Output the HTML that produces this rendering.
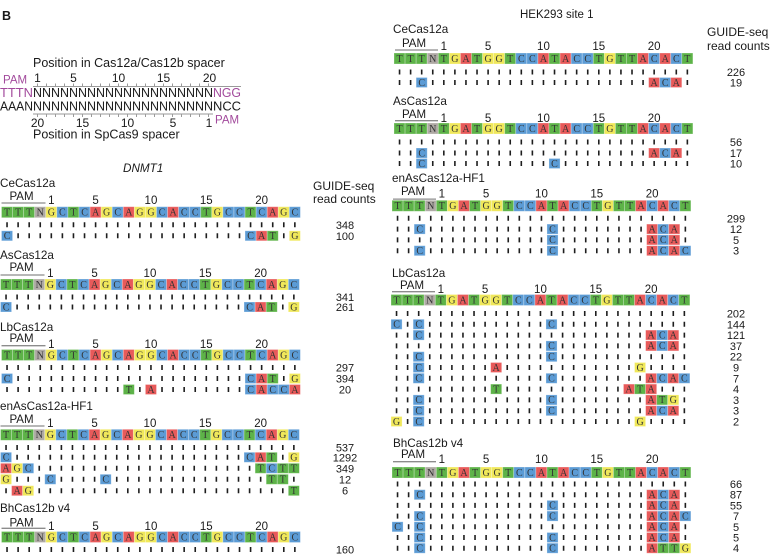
<!DOCTYPE html>
<html><head><meta charset="utf-8">
<style>
html,body{margin:0;padding:0;background:#fff}
body{width:770px;height:557px;overflow:hidden}
svg{display:block}
svg text{font-family:"Liberation Sans",Arial,sans-serif;fill:#1a1a1a}
svg text.s{font-family:"Liberation Serif","Liberation Mono",serif;font-size:10px;fill:#333;text-anchor:middle}
.t{fill:#5db348}.c{fill:#5b9bd5}.g{fill:#f0e85a}.a{fill:#e85a5a}.n{fill:#aea9a4}
rect.t,rect.c,rect.g,rect.a,rect.n{stroke:#fff;stroke-opacity:.35;stroke-width:.8}
.tk{stroke:#1e1e1e;stroke-width:5;stroke-dasharray:1.6 9.47}
svg text.lb{font-size:11.7px}
svg text.num{font-size:11.5px;text-anchor:middle}
svg text.cnt{font-size:11px;text-anchor:middle}
svg text.pm{font-size:11.5px;text-anchor:middle}
.pl{stroke:#8c8c8c;stroke-width:1.3}
svg text.p{fill:#a24a9c}
</style></head><body>
<svg width="770" height="557" viewBox="0 0 770 557" xmlns="http://www.w3.org/2000/svg">
<defs>
<line id="tk" class="tk" x1="4.74" x2="294.16" y1="0" y2="0"/>
<g id="dnmt">
<rect class="t" x="0" width="11.07" height="11"/><rect class="t" x="11.07" width="11.07" height="11"/><rect class="t" x="22.14" width="11.07" height="11"/><rect class="n" x="33.21" width="11.07" height="11"/><rect class="g" x="44.28" width="11.07" height="11"/><rect class="c" x="55.35" width="11.07" height="11"/><rect class="t" x="66.42" width="11.07" height="11"/><rect class="c" x="77.49" width="11.07" height="11"/><rect class="a" x="88.56" width="11.07" height="11"/><rect class="g" x="99.63" width="11.07" height="11"/><rect class="c" x="110.7" width="11.07" height="11"/><rect class="a" x="121.77" width="11.07" height="11"/><rect class="g" x="132.84" width="11.07" height="11"/><rect class="g" x="143.91" width="11.07" height="11"/><rect class="c" x="154.98" width="11.07" height="11"/><rect class="a" x="166.05" width="11.07" height="11"/><rect class="c" x="177.12" width="11.07" height="11"/><rect class="c" x="188.19" width="11.07" height="11"/><rect class="t" x="199.26" width="11.07" height="11"/><rect class="g" x="210.33" width="11.07" height="11"/><rect class="c" x="221.4" width="11.07" height="11"/><rect class="c" x="232.47" width="11.07" height="11"/><rect class="t" x="243.54" width="11.07" height="11"/><rect class="c" x="254.61" width="11.07" height="11"/><rect class="a" x="265.68" width="11.07" height="11"/><rect class="g" x="276.75" width="11.07" height="11"/><rect class="c" x="287.82" width="11.07" height="11"/>
</g>
<g id="hek">
<rect class="t" x="0" width="11.07" height="11"/><rect class="t" x="11.07" width="11.07" height="11"/><rect class="t" x="22.14" width="11.07" height="11"/><rect class="n" x="33.21" width="11.07" height="11"/><rect class="t" x="44.28" width="11.07" height="11"/><rect class="g" x="55.35" width="11.07" height="11"/><rect class="a" x="66.42" width="11.07" height="11"/><rect class="t" x="77.49" width="11.07" height="11"/><rect class="g" x="88.56" width="11.07" height="11"/><rect class="g" x="99.63" width="11.07" height="11"/><rect class="t" x="110.7" width="11.07" height="11"/><rect class="c" x="121.77" width="11.07" height="11"/><rect class="c" x="132.84" width="11.07" height="11"/><rect class="a" x="143.91" width="11.07" height="11"/><rect class="t" x="154.98" width="11.07" height="11"/><rect class="a" x="166.05" width="11.07" height="11"/><rect class="c" x="177.12" width="11.07" height="11"/><rect class="c" x="188.19" width="11.07" height="11"/><rect class="t" x="199.26" width="11.07" height="11"/><rect class="g" x="210.33" width="11.07" height="11"/><rect class="t" x="221.4" width="11.07" height="11"/><rect class="t" x="232.47" width="11.07" height="11"/><rect class="a" x="243.54" width="11.07" height="11"/><rect class="c" x="254.61" width="11.07" height="11"/><rect class="a" x="265.68" width="11.07" height="11"/><rect class="c" x="276.75" width="11.07" height="11"/><rect class="t" x="287.82" width="11.07" height="11"/>
</g>
</defs>

<!-- ===== Top schematic ===== -->
<text x="2" y="20" font-weight="bold" font-size="12.5">B</text>
<text x="33" y="67" font-size="12.5">Position in Cas12a/Cas12b spacer</text>
<text x="3" y="83.5" class="p" font-size="11.5">PAM</text>
<text font-size="12" text-anchor="middle" y="82"><tspan x="37.5">1</tspan><tspan x="73.5">5</tspan><tspan x="118.5">10</tspan><tspan x="163.5">15</tspan><tspan x="209.5">20</tspan></text>
<line x1="33" x2="241" y1="86.5" y2="86.5" stroke="#9a9a9a" stroke-width="1"/>
<line x1="37" x2="209" y1="85" y2="85" stroke="#9a9a9a" stroke-width="3" stroke-dasharray="1 8"/>
<text x="0" y="97" font-size="13" class="p" textLength="33" lengthAdjust="spacingAndGlyphs">TTTN</text>
<text x="33" y="97" font-size="13" textLength="180" lengthAdjust="spacingAndGlyphs">NNNNNNNNNNNNNNNNNNNN</text>
<text x="213" y="97" font-size="13" class="p" textLength="28" lengthAdjust="spacingAndGlyphs">NGG</text>
<text x="0" y="110.3" font-size="13" textLength="33" lengthAdjust="spacingAndGlyphs">AAAN</text>
<text x="33" y="110.3" font-size="13" textLength="180" lengthAdjust="spacingAndGlyphs">NNNNNNNNNNNNNNNNNNNN</text>
<text x="213" y="110.3" font-size="13" textLength="28" lengthAdjust="spacingAndGlyphs">NCC</text>
<line x1="33" x2="213" y1="114" y2="114" stroke="#9a9a9a" stroke-width="1"/>
<line x1="37" x2="209" y1="115.5" y2="115.5" stroke="#9a9a9a" stroke-width="3" stroke-dasharray="1 8"/>
<text font-size="12" text-anchor="middle" y="127"><tspan x="37.5">20</tspan><tspan x="82.5">15</tspan><tspan x="127.5">10</tspan><tspan x="173">5</tspan><tspan x="209">1</tspan></text>
<text x="215" y="123.5" class="p" font-size="11.5">PAM</text>
<text x="33" y="138.5" font-size="12.5">Position in SpCas9 spacer</text>

<!-- ===== DNMT1 headers ===== -->
<text x="123" y="172" font-size="11.7" font-style="italic">DNMT1</text>
<text x="313" y="190" font-size="12">GUIDE-seq</text>
<text x="313" y="203" font-size="12">read counts</text>

<!-- Left CeCas12a -->
<g transform="translate(1.5,206.7)">
<text class="lb" x="-1.5" y="-19.7">CeCas12a</text>
<text class="pm" x="20" y="-6.7">PAM</text>
<line class="pl" x1="0" x2="44" y1="-3.7" y2="-3.7"/>
<text class="num" y="-2.7"><tspan x="49.82">1</tspan><tspan x="94.1">5</tspan><tspan x="149.45">10</tspan><tspan x="204.8">15</tspan><tspan x="260.15">20</tspan></text>
<use href="#dnmt"/>
<text class="s" x="5.54 16.61 27.68 38.75 49.82 60.89 71.96 83.03 94.1 105.17 116.24 127.31 138.38 149.45 160.52 171.59 182.66 193.73 204.8 215.87 226.94 238.01 249.08 260.15 271.22 282.29 293.36" y="8.8">TTTNGCTCAGCAGGCACCTGCCTCAGC</text>
<use href="#tk" y="18.1"/>
<use href="#tk" y="29.1"/>
<rect class="c" x="0" y="24.1" width="11.07" height="10"/><rect class="c" x="243.54" y="24.1" width="11.07" height="10"/><rect class="a" x="254.61" y="24.1" width="11.07" height="10"/><rect class="t" x="265.68" y="24.1" width="11.07" height="10"/><rect class="g" x="287.82" y="24.1" width="11.07" height="10"/>
<text class="s" x="5.54 249.08 260.15 271.22 293.36" y="32.4">CCATG</text>
<text class="cnt" x="343.5" y="22.1">348</text>
<text class="cnt" x="343.5" y="33.1">100</text>
</g>

<!-- Left AsCas12a -->
<g transform="translate(0.5,279)">
<text class="lb" x="-0.5" y="-20">AsCas12a</text>
<text class="pm" x="21" y="-8">PAM</text>
<line class="pl" x1="0" x2="44" y1="-4" y2="-4"/>
<text class="num" y="-2"><tspan x="49.82">1</tspan><tspan x="94.1">5</tspan><tspan x="149.45">10</tspan><tspan x="204.8">15</tspan><tspan x="260.15">20</tspan></text>
<use href="#dnmt"/>
<text class="s" x="5.54 16.61 27.68 38.75 49.82 60.89 71.96 83.03 94.1 105.17 116.24 127.31 138.38 149.45 160.52 171.59 182.66 193.73 204.8 215.87 226.94 238.01 249.08 260.15 271.22 282.29 293.36" y="8.8">TTTNGCTCAGCAGGCACCTGCCTCAGC</text>
<use href="#tk" y="18"/>
<use href="#tk" y="28"/>
<rect class="c" x="0" y="23" width="11.07" height="10"/><rect class="c" x="243.54" y="23" width="11.07" height="10"/><rect class="a" x="254.61" y="23" width="11.07" height="10"/><rect class="t" x="265.68" y="23" width="11.07" height="10"/><rect class="g" x="287.82" y="23" width="11.07" height="10"/>
<text class="s" x="5.54 249.08 260.15 271.22 293.36" y="31.3">CCATG</text>
<text class="cnt" x="344.5" y="22">341</text>
<text class="cnt" x="344.5" y="32">261</text>
</g>

<!-- Left LbCas12a -->
<g transform="translate(1.5,349.5)">
<text class="lb" x="-1.5" y="-18.5">LbCas12a</text>
<text class="pm" x="20" y="-7.5">PAM</text>
<line class="pl" x1="0" x2="44" y1="-3.8" y2="-3.8"/>
<text class="num" y="-1.5"><tspan x="49.82">1</tspan><tspan x="94.1">5</tspan><tspan x="149.45">10</tspan><tspan x="204.8">15</tspan><tspan x="260.15">20</tspan></text>
<use href="#dnmt"/>
<text class="s" x="5.54 16.61 27.68 38.75 49.82 60.89 71.96 83.03 94.1 105.17 116.24 127.31 138.38 149.45 160.52 171.59 182.66 193.73 204.8 215.87 226.94 238.01 249.08 260.15 271.22 282.29 293.36" y="8.8">TTTNGCTCAGCAGGCACCTGCCTCAGC</text>
<use href="#tk" y="18"/>
<use href="#tk" y="29"/>
<use href="#tk" y="40"/>
<rect class="c" x="0" y="24" width="11.07" height="10"/><rect class="c" x="243.54" y="24" width="11.07" height="10"/><rect class="a" x="254.61" y="24" width="11.07" height="10"/><rect class="t" x="265.68" y="24" width="11.07" height="10"/><rect class="g" x="287.82" y="24" width="11.07" height="10"/>
<text class="s" x="5.54 249.08 260.15 271.22 293.36" y="32.3">CCATG</text>
<rect class="t" x="121.77" y="35" width="11.07" height="10"/><rect class="a" x="143.91" y="35" width="11.07" height="10"/><rect class="c" x="243.54" y="35" width="11.07" height="10"/><rect class="a" x="254.61" y="35" width="11.07" height="10"/><rect class="c" x="265.68" y="35" width="11.07" height="10"/><rect class="c" x="276.75" y="35" width="11.07" height="10"/><rect class="a" x="287.82" y="35" width="11.07" height="10"/>
<text class="s" x="127.31 149.45 249.08 260.15 271.22 282.29 293.36" y="43.3">TACACCA</text>
<text class="cnt" x="343.5" y="22">297</text>
<text class="cnt" x="343.5" y="33">394</text>
<text class="cnt" x="343.5" y="44">20</text>
</g>

<!-- Left enAsCas12a-HF1 -->
<g transform="translate(0.5,429.3)">
<text class="lb" x="-0.5" y="-19.3">enAsCas12a-HF1</text>
<text class="pm" x="21" y="-6.3">PAM</text>
<line class="pl" x1="0" x2="44" y1="-3.3" y2="-3.3"/>
<text class="num" y="-2.3"><tspan x="49.82">1</tspan><tspan x="94.1">5</tspan><tspan x="149.45">10</tspan><tspan x="204.8">15</tspan><tspan x="260.15">20</tspan></text>
<use href="#dnmt"/>
<text class="s" x="5.54 16.61 27.68 38.75 49.82 60.89 71.96 83.03 94.1 105.17 116.24 127.31 138.38 149.45 160.52 171.59 182.66 193.73 204.8 215.87 226.94 238.01 249.08 260.15 271.22 282.29 293.36" y="8.8">TTTNGCTCAGCAGGCACCTGCCTCAGC</text>
<use href="#tk" y="18.2"/>
<use href="#tk" y="28"/>
<use href="#tk" y="39"/>
<use href="#tk" y="50"/>
<use href="#tk" y="61.4"/>
<rect class="c" x="0" y="23" width="11.07" height="10"/><rect class="c" x="243.54" y="23" width="11.07" height="10"/><rect class="a" x="254.61" y="23" width="11.07" height="10"/><rect class="t" x="265.68" y="23" width="11.07" height="10"/><rect class="g" x="287.82" y="23" width="11.07" height="10"/>
<text class="s" x="5.54 249.08 260.15 271.22 293.36" y="31.3">CCATG</text>
<rect class="a" x="0" y="34" width="11.07" height="10"/><rect class="g" x="11.07" y="34" width="11.07" height="10"/><rect class="c" x="22.14" y="34" width="11.07" height="10"/><rect class="t" x="254.61" y="34" width="11.07" height="10"/><rect class="c" x="265.68" y="34" width="11.07" height="10"/><rect class="t" x="276.75" y="34" width="11.07" height="10"/><rect class="t" x="287.82" y="34" width="11.07" height="10"/>
<text class="s" x="5.54 16.61 27.68 260.15 271.22 282.29 293.36" y="42.3">AGCTCTT</text>
<rect class="g" x="0" y="45" width="11.07" height="10"/><rect class="c" x="44.28" y="45" width="11.07" height="10"/><rect class="c" x="99.63" y="45" width="11.07" height="10"/><rect class="t" x="265.68" y="45" width="11.07" height="10"/><rect class="t" x="276.75" y="45" width="11.07" height="10"/>
<text class="s" x="5.54 49.82 105.17 271.22 282.29" y="53.3">GCCTT</text>
<rect class="a" x="11.07" y="56.4" width="11.07" height="10"/><rect class="g" x="22.14" y="56.4" width="11.07" height="10"/><rect class="t" x="287.82" y="56.4" width="11.07" height="10"/>
<text class="s" x="16.61 27.68 293.36" y="64.7">AGT</text>
<text class="cnt" x="344.5" y="22.2">537</text>
<text class="cnt" x="344.5" y="32">1292</text>
<text class="cnt" x="344.5" y="43">349</text>
<text class="cnt" x="344.5" y="54">12</text>
<text class="cnt" x="344.5" y="65.4">6</text>
</g>

<!-- Left BhCas12b v4 -->
<g transform="translate(1.5,531.5)">
<text class="lb" x="-1.5" y="-19.5">BhCas12b v4</text>
<text class="pm" x="20" y="-5">PAM</text>
<line class="pl" x1="0" x2="44" y1="-3.2" y2="-3.2"/>
<text class="num" y="-1.5"><tspan x="49.82">1</tspan><tspan x="94.1">5</tspan><tspan x="149.45">10</tspan><tspan x="204.8">15</tspan><tspan x="260.15">20</tspan></text>
<use href="#dnmt"/>
<text class="s" x="5.54 16.61 27.68 38.75 49.82 60.89 71.96 83.03 94.1 105.17 116.24 127.31 138.38 149.45 160.52 171.59 182.66 193.73 204.8 215.87 226.94 238.01 249.08 260.15 271.22 282.29 293.36" y="8.8">TTTNGCTCAGCAGGCACCTGCCTCAGC</text>
<use href="#tk" y="18"/>
<text class="cnt" x="343.5" y="22">160</text>
</g>

<!-- ===== HEK293 site 1 ===== -->
<text x="520" y="18" font-size="11.5">HEK293 site 1</text>
<text x="707" y="36" font-size="12">GUIDE-seq</text>
<text x="707" y="50" font-size="12">read counts</text>

<!-- Right CeCas12a -->
<g transform="translate(394,53)">
<text class="lb" x="-1" y="-20">CeCas12a</text>
<text class="pm" x="20" y="-6">PAM</text>
<line class="pl" x1="1" x2="44" y1="-3" y2="-3"/>
<text class="num" y="-3"><tspan x="49.82">1</tspan><tspan x="94.1">5</tspan><tspan x="149.45">10</tspan><tspan x="204.8">15</tspan><tspan x="260.15">20</tspan></text>
<use href="#hek"/>
<text class="s" x="5.54 16.61 27.68 38.75 49.82 60.89 71.96 83.03 94.1 105.17 116.24 127.31 138.38 149.45 160.52 171.59 182.66 193.73 204.8 215.87 226.94 238.01 249.08 260.15 271.22 282.29 293.36" y="8.8">TTTNTGATGGTCCATACCTGTTACACT</text>
<use href="#tk" y="19"/>
<use href="#tk" y="29.5"/>
<rect class="c" x="22.14" y="24.5" width="11.07" height="10"/><rect class="a" x="254.61" y="24.5" width="11.07" height="10"/><rect class="c" x="265.68" y="24.5" width="11.07" height="10"/><rect class="a" x="276.75" y="24.5" width="11.07" height="10"/>
<text class="s" x="27.68 260.15 271.22 282.29" y="32.8">CACA</text>
<text class="cnt" x="342" y="23">226</text>
<text class="cnt" x="342" y="33.5">19</text>
</g>

<!-- Right AsCas12a -->
<g transform="translate(394,123)">
<text class="lb" x="-1" y="-18">AsCas12a</text>
<text class="pm" x="20" y="-5">PAM</text>
<line class="pl" x1="1" x2="44" y1="-2.3" y2="-2.3"/>
<text class="num" y="-1.2"><tspan x="49.82">1</tspan><tspan x="94.1">5</tspan><tspan x="149.45">10</tspan><tspan x="204.8">15</tspan><tspan x="260.15">20</tspan></text>
<use href="#hek"/>
<text class="s" x="5.54 16.61 27.68 38.75 49.82 60.89 71.96 83.03 94.1 105.17 116.24 127.31 138.38 149.45 160.52 171.59 182.66 193.73 204.8 215.87 226.94 238.01 249.08 260.15 271.22 282.29 293.36" y="8.8">TTTNTGATGGTCCATACCTGTTACACT</text>
<use href="#tk" y="19"/>
<use href="#tk" y="30"/>
<use href="#tk" y="40.5"/>
<rect class="c" x="22.14" y="25" width="11.07" height="10"/><rect class="a" x="254.61" y="25" width="11.07" height="10"/><rect class="c" x="265.68" y="25" width="11.07" height="10"/><rect class="a" x="276.75" y="25" width="11.07" height="10"/>
<text class="s" x="27.68 260.15 271.22 282.29" y="33.3">CACA</text>
<rect class="c" x="22.14" y="35.5" width="11.07" height="10"/><rect class="c" x="154.98" y="35.5" width="11.07" height="10"/>
<text class="s" x="27.68 160.52" y="43.8">CC</text>
<text class="cnt" x="342" y="23">56</text>
<text class="cnt" x="342" y="34">17</text>
<text class="cnt" x="342" y="44.5">10</text>
</g>

<!-- Right enAsCas12a-HF1 -->
<g transform="translate(392,200.3)">
<text class="lb" x="0" y="-18.3">enAsCas12a-HF1</text>
<text class="pm" x="21" y="-5.3">PAM</text>
<line class="pl" x1="1" x2="44" y1="-1.2" y2="-1.2"/>
<text class="num" y="-3"><tspan x="49.82">1</tspan><tspan x="94.1">5</tspan><tspan x="149.45">10</tspan><tspan x="204.8">15</tspan><tspan x="260.15">20</tspan></text>
<use href="#hek"/>
<text class="s" x="5.54 16.61 27.68 38.75 49.82 60.89 71.96 83.03 94.1 105.17 116.24 127.31 138.38 149.45 160.52 171.59 182.66 193.73 204.8 215.87 226.94 238.01 249.08 260.15 271.22 282.29 293.36" y="8.8">TTTNTGATGGTCCATACCTGTTACACT</text>
<use href="#tk" y="18"/>
<use href="#tk" y="28.8"/>
<use href="#tk" y="39.6"/>
<use href="#tk" y="50.4"/>
<rect class="c" x="22.14" y="23.8" width="11.07" height="10"/><rect class="c" x="154.98" y="23.8" width="11.07" height="10"/><rect class="a" x="254.61" y="23.8" width="11.07" height="10"/><rect class="c" x="265.68" y="23.8" width="11.07" height="10"/><rect class="a" x="276.75" y="23.8" width="11.07" height="10"/>
<text class="s" x="27.68 160.52 260.15 271.22 282.29" y="32.1">CCACA</text>
<rect class="c" x="154.98" y="34.6" width="11.07" height="10"/><rect class="a" x="254.61" y="34.6" width="11.07" height="10"/><rect class="c" x="265.68" y="34.6" width="11.07" height="10"/><rect class="a" x="276.75" y="34.6" width="11.07" height="10"/>
<text class="s" x="160.52 260.15 271.22 282.29" y="42.9">CACA</text>
<rect class="c" x="22.14" y="45.4" width="11.07" height="10"/><rect class="c" x="154.98" y="45.4" width="11.07" height="10"/><rect class="a" x="254.61" y="45.4" width="11.07" height="10"/><rect class="c" x="265.68" y="45.4" width="11.07" height="10"/><rect class="a" x="276.75" y="45.4" width="11.07" height="10"/><rect class="c" x="287.82" y="45.4" width="11.07" height="10"/>
<text class="s" x="27.68 160.52 260.15 271.22 282.29 293.36" y="53.7">CCACAC</text>
<text class="cnt" x="344" y="22">299</text>
<text class="cnt" x="344" y="32.8">12</text>
<text class="cnt" x="344" y="43.6">5</text>
<text class="cnt" x="344" y="54.4">3</text>
</g>

<!-- Right LbCas12a -->
<g transform="translate(391,294.5)">
<text class="lb" x="1" y="-17.5">LbCas12a</text>
<text class="pm" x="21" y="-5.5">PAM</text>
<line class="pl" x1="1" x2="44" y1="-2.8" y2="-2.8"/>
<text class="num" y="-1.5"><tspan x="49.82">1</tspan><tspan x="94.1">5</tspan><tspan x="149.45">10</tspan><tspan x="204.8">15</tspan><tspan x="260.15">20</tspan></text>
<use href="#hek"/>
<text class="s" x="5.54 16.61 27.68 38.75 49.82 60.89 71.96 83.03 94.1 105.17 116.24 127.31 138.38 149.45 160.52 171.59 182.66 193.73 204.8 215.87 226.94 238.01 249.08 260.15 271.22 282.29 293.36" y="8.8">TTTNTGATGGTCCATACCTGTTACACT</text>
<use href="#tk" y="19"/>
<use href="#tk" y="29.8"/>
<use href="#tk" y="40.6"/>
<use href="#tk" y="51.4"/>
<use href="#tk" y="62.2"/>
<use href="#tk" y="73"/>
<use href="#tk" y="83.8"/>
<use href="#tk" y="94.6"/>
<use href="#tk" y="105.4"/>
<use href="#tk" y="116.2"/>
<use href="#tk" y="127"/>
<!-- r2 -->
<rect class="c" x="0" y="24.8" width="11.07" height="10"/><rect class="c" x="22.14" y="24.8" width="11.07" height="10"/><rect class="c" x="154.98" y="24.8" width="11.07" height="10"/>
<text class="s" x="5.54 27.68 160.52" y="33.1">CCC</text>
<!-- r3 -->
<rect class="c" x="22.14" y="35.6" width="11.07" height="10"/><rect class="a" x="254.61" y="35.6" width="11.07" height="10"/><rect class="c" x="265.68" y="35.6" width="11.07" height="10"/><rect class="a" x="276.75" y="35.6" width="11.07" height="10"/>
<text class="s" x="27.68 260.15 271.22 282.29" y="43.9">CACA</text>
<!-- r4 -->
<rect class="c" x="154.98" y="46.4" width="11.07" height="10"/><rect class="a" x="254.61" y="46.4" width="11.07" height="10"/><rect class="c" x="265.68" y="46.4" width="11.07" height="10"/><rect class="a" x="276.75" y="46.4" width="11.07" height="10"/>
<text class="s" x="160.52 260.15 271.22 282.29" y="54.7">CACA</text>
<!-- r5 -->
<rect class="c" x="22.14" y="57.2" width="11.07" height="10"/><rect class="c" x="154.98" y="57.2" width="11.07" height="10"/>
<text class="s" x="27.68 160.52" y="65.5">CC</text>
<!-- r6 -->
<rect class="c" x="22.14" y="68" width="11.07" height="10"/><rect class="a" x="99.63" y="68" width="11.07" height="10"/><rect class="g" x="243.54" y="68" width="11.07" height="10"/>
<text class="s" x="27.68 105.17 249.08" y="76.3">CAG</text>
<!-- r7 -->
<rect class="c" x="22.14" y="78.8" width="11.07" height="10"/><rect class="c" x="154.98" y="78.8" width="11.07" height="10"/><rect class="a" x="254.61" y="78.8" width="11.07" height="10"/><rect class="c" x="265.68" y="78.8" width="11.07" height="10"/><rect class="a" x="276.75" y="78.8" width="11.07" height="10"/><rect class="c" x="287.82" y="78.8" width="11.07" height="10"/>
<text class="s" x="27.68 160.52 260.15 271.22 282.29 293.36" y="87.1">CCACAC</text>
<!-- r8 -->
<rect class="t" x="99.63" y="89.6" width="11.07" height="10"/><rect class="a" x="232.47" y="89.6" width="11.07" height="10"/><rect class="t" x="243.54" y="89.6" width="11.07" height="10"/><rect class="a" x="254.61" y="89.6" width="11.07" height="10"/>
<text class="s" x="105.17 238.01 249.08 260.15" y="97.9">TATA</text>
<!-- r9 -->
<rect class="c" x="22.14" y="100.4" width="11.07" height="10"/><rect class="c" x="154.98" y="100.4" width="11.07" height="10"/><rect class="a" x="254.61" y="100.4" width="11.07" height="10"/><rect class="t" x="265.68" y="100.4" width="11.07" height="10"/><rect class="g" x="276.75" y="100.4" width="11.07" height="10"/>
<text class="s" x="27.68 160.52 260.15 271.22 282.29" y="108.7">CCATG</text>
<!-- r10 -->
<rect class="c" x="22.14" y="111.2" width="11.07" height="10"/><rect class="c" x="154.98" y="111.2" width="11.07" height="10"/><rect class="a" x="254.61" y="111.2" width="11.07" height="10"/><rect class="c" x="265.68" y="111.2" width="11.07" height="10"/><rect class="a" x="276.75" y="111.2" width="11.07" height="10"/>
<text class="s" x="27.68 160.52 260.15 271.22 282.29" y="119.5">CCACA</text>
<!-- r11 -->
<rect class="g" x="0" y="122" width="11.07" height="10"/><rect class="c" x="22.14" y="122" width="11.07" height="10"/><rect class="g" x="243.54" y="122" width="11.07" height="10"/>
<text class="s" x="5.54 27.68 249.08" y="130.3">GCG</text>
<text class="cnt" x="345" y="23">202</text>
<text class="cnt" x="345" y="33.8">144</text>
<text class="cnt" x="345" y="44.6">121</text>
<text class="cnt" x="345" y="55.4">37</text>
<text class="cnt" x="345" y="66.2">22</text>
<text class="cnt" x="345" y="77">9</text>
<text class="cnt" x="345" y="87.8">7</text>
<text class="cnt" x="345" y="98.6">4</text>
<text class="cnt" x="345" y="109.4">3</text>
<text class="cnt" x="345" y="120.2">3</text>
<text class="cnt" x="345" y="131">2</text>
</g>

<!-- Right BhCas12b v4 -->
<g transform="translate(392,467)">
<text class="lb" x="1" y="-20">BhCas12b v4</text>
<text class="pm" x="21" y="-9">PAM</text>
<line class="pl" x1="1" x2="44" y1="-5.3" y2="-5.3"/>
<text class="num" y="-3.8"><tspan x="49.82">1</tspan><tspan x="94.1">5</tspan><tspan x="149.45">10</tspan><tspan x="204.8">15</tspan><tspan x="260.15">20</tspan></text>
<use href="#hek"/>
<text class="s" x="5.54 16.61 27.68 38.75 49.82 60.89 71.96 83.03 94.1 105.17 116.24 127.31 138.38 149.45 160.52 171.59 182.66 193.73 204.8 215.87 226.94 238.01 249.08 260.15 271.22 282.29 293.36" y="8.8">TTTNTGATGGTCCATACCTGTTACACT</text>
<use href="#tk" y="17"/>
<use href="#tk" y="27.7"/>
<use href="#tk" y="38.4"/>
<use href="#tk" y="49.1"/>
<use href="#tk" y="59.8"/>
<use href="#tk" y="70.5"/>
<use href="#tk" y="81.2"/>
<!-- r2 -->
<rect class="c" x="22.14" y="22.7" width="11.07" height="10"/><rect class="a" x="254.61" y="22.7" width="11.07" height="10"/><rect class="c" x="265.68" y="22.7" width="11.07" height="10"/><rect class="a" x="276.75" y="22.7" width="11.07" height="10"/>
<text class="s" x="27.68 260.15 271.22 282.29" y="31">CACA</text>
<!-- r3 -->
<rect class="c" x="154.98" y="33.4" width="11.07" height="10"/><rect class="a" x="254.61" y="33.4" width="11.07" height="10"/><rect class="c" x="265.68" y="33.4" width="11.07" height="10"/><rect class="a" x="276.75" y="33.4" width="11.07" height="10"/>
<text class="s" x="160.52 260.15 271.22 282.29" y="41.7">CACA</text>
<!-- r4 -->
<rect class="c" x="22.14" y="44.1" width="11.07" height="10"/><rect class="c" x="154.98" y="44.1" width="11.07" height="10"/><rect class="a" x="254.61" y="44.1" width="11.07" height="10"/><rect class="c" x="265.68" y="44.1" width="11.07" height="10"/><rect class="a" x="276.75" y="44.1" width="11.07" height="10"/><rect class="c" x="287.82" y="44.1" width="11.07" height="10"/>
<text class="s" x="27.68 160.52 260.15 271.22 282.29 293.36" y="52.4">CCACAC</text>
<!-- r5 -->
<rect class="c" x="0" y="54.8" width="11.07" height="10"/><rect class="c" x="22.14" y="54.8" width="11.07" height="10"/><rect class="a" x="254.61" y="54.8" width="11.07" height="10"/><rect class="c" x="265.68" y="54.8" width="11.07" height="10"/><rect class="a" x="276.75" y="54.8" width="11.07" height="10"/>
<text class="s" x="5.54 27.68 260.15 271.22 282.29" y="63.1">CCACA</text>
<!-- r6 -->
<rect class="c" x="22.14" y="65.5" width="11.07" height="10"/><rect class="c" x="154.98" y="65.5" width="11.07" height="10"/><rect class="a" x="254.61" y="65.5" width="11.07" height="10"/><rect class="c" x="265.68" y="65.5" width="11.07" height="10"/><rect class="a" x="276.75" y="65.5" width="11.07" height="10"/>
<text class="s" x="27.68 160.52 260.15 271.22 282.29" y="73.8">CCACA</text>
<!-- r7 -->
<rect class="c" x="22.14" y="76.2" width="11.07" height="10"/><rect class="c" x="154.98" y="76.2" width="11.07" height="10"/><rect class="a" x="254.61" y="76.2" width="11.07" height="10"/><rect class="t" x="265.68" y="76.2" width="11.07" height="10"/><rect class="t" x="276.75" y="76.2" width="11.07" height="10"/><rect class="g" x="287.82" y="76.2" width="11.07" height="10"/>
<text class="s" x="27.68 160.52 260.15 271.22 282.29 293.36" y="84.5">CCATTG</text>
<text class="cnt" x="344" y="21">66</text>
<text class="cnt" x="344" y="31.7">87</text>
<text class="cnt" x="344" y="42.4">55</text>
<text class="cnt" x="344" y="53.1">7</text>
<text class="cnt" x="344" y="63.8">5</text>
<text class="cnt" x="344" y="74.5">5</text>
<text class="cnt" x="344" y="85.2">4</text>
</g>
</svg>
</body></html>
